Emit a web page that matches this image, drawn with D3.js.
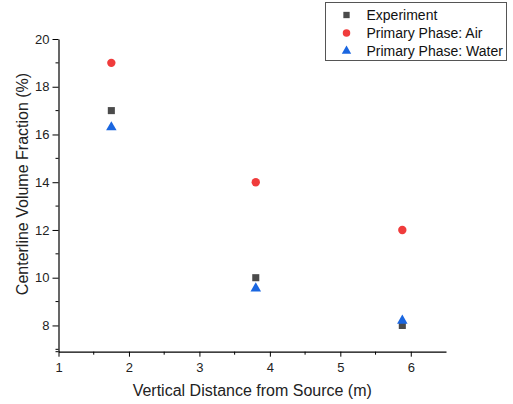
<!DOCTYPE html>
<html>
<head>
<meta charset="utf-8">
<script src="https://cdn.jsdelivr.net/npm/d3@7"></script>
<style>
  body { margin: 0; background: #fff; }
  svg { font-family: "Liberation Sans", Arial, sans-serif; }
</style>
</head>
<body>
<svg id="chart" width="513" height="404"></svg>
<script>
// values
const distance   = [1.75, 3.8, 5.88];
const experiment = [17.0, 10.0, 8.0];
const phaseAir   = [19.0, 14.0, 12.0];
const phaseWater = [16.3, 9.55, 8.2];
const xTicks = [1, 2, 3, 4, 5, 6];
const yTicks = [8, 10, 12, 14, 16, 18, 20];

const series = [
  { name: 'Experiment',           values: experiment, symbol: d3.symbolSquare,   color: '#4b4b4b', size: 50 },
  { name: 'Primary Phase: Air',   values: phaseAir,   symbol: d3.symbolCircle,   color: '#f03c3c', size: 55 },
  { name: 'Primary Phase: Water', values: phaseWater, symbol: d3.symbolTriangle, color: '#1a66e0', size: 48 },
];

const svg = d3.select('#chart');
const x = d3.scaleLinear().domain([1, 6.5]).range([58.5, 446]);
const y = d3.scaleLinear().domain([6.9, 20]).range([351.7, 39]);

// axes — Origin style: outward ticks, half-step minor ticks
const xAxis = d3.axisBottom(x).tickValues(xTicks).tickFormat(d3.format('d')).tickSize(5).tickSizeOuter(0);
const yAxis = d3.axisLeft(y).tickValues(yTicks).tickFormat(d3.format('d')).tickSize(6).tickSizeOuter(0);

const gx = svg.append('g').attr('transform', `translate(0,${y.range()[0]})`).call(xAxis);
const gy = svg.append('g').attr('transform', `translate(${x.range()[0]},0)`).call(yAxis);

// minor ticks
gx.selectAll('.minor').data(d3.range(1.5, 6.5, 1)).enter().append('line')
  .attr('x1', d => x(d)).attr('x2', d => x(d)).attr('y1', 0).attr('y2', 3).attr('stroke', '#000');
gy.selectAll('.minor').data(d3.range(7, 20, 2)).enter().append('line')
  .attr('y1', d => y(d)).attr('y2', d => y(d)).attr('x1', 0).attr('x2', -3).attr('stroke', '#000');

// extend x axis slightly left past the y axis, as in the reference
gx.append('line').attr('x1', x.range()[0] - 3).attr('x2', x.range()[0]).attr('y1', 0).attr('y2', 0).attr('stroke', '#000');

[gx, gy].forEach(g => {
  g.select('.domain').attr('stroke', '#000').attr('stroke-width', 1.2);
  g.selectAll('.tick line').attr('stroke', '#000');
  g.selectAll('.tick text').attr('font-size', 13).attr('fill', '#222').style('font-family', '"Liberation Sans", Arial, sans-serif');
});
gx.selectAll('.tick text').attr('y', 20).attr('dy', 0);
gy.selectAll('.tick text').attr('x', -9);

// axis titles
svg.append('text')
  .attr('x', (x.range()[0] + x.range()[1]) / 2).attr('y', 396)
  .attr('text-anchor', 'middle').attr('font-size', 16).attr('fill', '#222')
  .text('Vertical Distance from Source (m)');

svg.append('text')
  .attr('transform', 'translate(28,184) rotate(-90)')
  .attr('text-anchor', 'middle').attr('font-size', 16).attr('fill', '#222')
  .text('Centerline Volume Fraction (%)');

// points
series.forEach(s => {
  svg.append('g').selectAll('path').data(s.values).enter().append('path')
    .attr('d', d3.symbol().type(s.symbol).size(s.size))
    .attr('transform', (v, i) => `translate(${x(distance[i])},${y(v)})`)
    .attr('fill', s.color);
});

// legend
const lg = svg.append('g').attr('transform', 'translate(325.5,2.5)');
lg.append('rect').attr('width', 181).attr('height', 58)
  .attr('fill', '#fff').attr('stroke', '#555').attr('stroke-width', 1);
series.forEach((s, i) => {
  const cy = 12.5 + i * 18;
  lg.append('path')
    .attr('d', d3.symbol().type(s.symbol).size(s.size * 0.8))
    .attr('transform', `translate(21,${cy})`)
    .attr('fill', s.color);
  lg.append('text').attr('x', 41).attr('y', cy + 5)
    .attr('font-size', 14).attr('fill', '#111').text(s.name);
});
</script>
</body>
</html>
